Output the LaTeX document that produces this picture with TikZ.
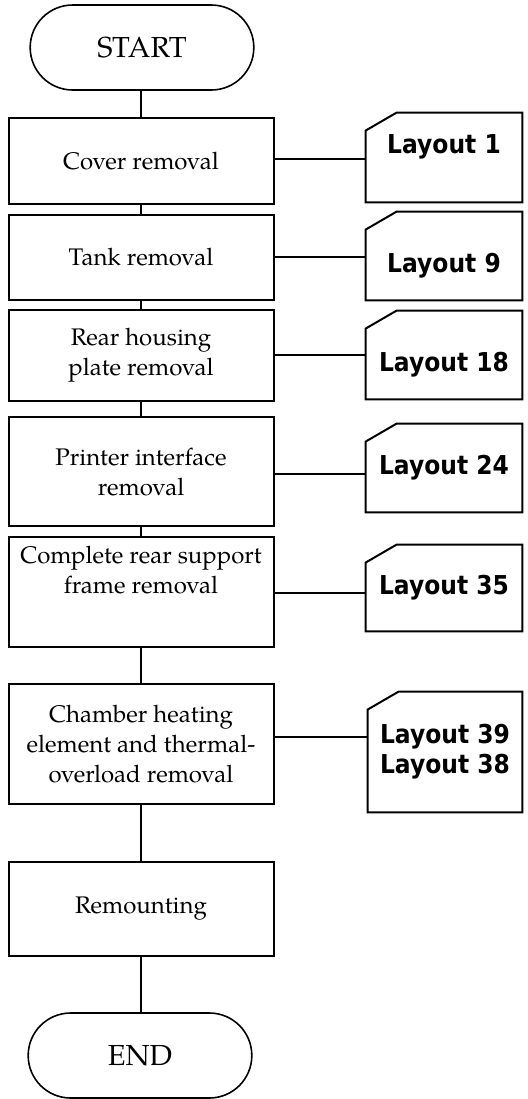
\documentclass[tikz,border=0pt]{standalone}
\usepackage{fontspec}
\setmainfont{TeX Gyre Pagella}
\newfontfamily\layoutfont{DejaVu Sans}[FakeStretch=0.9]
\usetikzlibrary{shapes.misc}

\begin{document}
\begin{tikzpicture}[x=0.5pt,y=-0.5pt,
    stepbox/.style={draw,line width=1pt,minimum width=132.5pt,align=center,inner sep=0pt,
      font=\fontsize{12}{15}\selectfont},
    termbox/.style={draw,line width=0.8pt,rounded rectangle,minimum width=118.5pt,
      minimum height=42.5pt,font=\fontsize{14.5}{17}\selectfont},
    card/.style={minimum width=78pt,minimum height=44pt,align=center,inner sep=0pt,
      font=\layoutfont\bfseries\fontsize{13}{15}\selectfont},
    link/.style={line width=0.75pt}]
  \useasboundingbox (0,0) rectangle (527,1099);
  % main chain
  \node[termbox] (start) at (142,47.5) {START};
  \node[stepbox,minimum height=43pt] (b1) at (141,161) {Cover removal};
  \node[stepbox,minimum height=42.5pt] (b2) at (141,257.5) {Tank removal};
  \node[stepbox,minimum height=45.5pt] (b3) at (141,355.5) {Rear housing\\plate removal};
  \node[stepbox,minimum height=54.5pt] (b4) at (141,471.5) {Printer interface\\removal};
  \node[stepbox,minimum height=55pt] (b5) at (141,592) {};
  \node[align=center,inner sep=0pt,font=\fontsize{12}{15}\selectfont] (t5) at (141,570.5)
    {Complete rear support\\frame removal};
  \node[stepbox,minimum height=60pt] (b6) at (141,744) {Chamber heating\\element and thermal-\\overload removal};
  \node[stepbox,minimum height=47pt] (b7) at (141,909) {Remounting};
  \node[termbox] (end) at (140,1055.5) {END};
  % layout cards
  \node[card,minimum height=44.5pt,text height=5pt,text depth=9.5pt] (c1) at (444,157.5) {Layout 1};
  \node[card,text height=16.5pt,text depth=0pt] (c2) at (444,256) {Layout 9};
  \node[card,text height=16.5pt,text depth=0pt] (c3) at (444,355) {Layout 18};
  \node[card] (c4) at (444,468) {Layout 24};
  \node[card,minimum height=43pt] (c5) at (444,588) {Layout 35};
  \node[card,minimum width=77pt,minimum height=60pt] (c6) at (445,752) {Layout 39\\Layout 38};
  \foreach \c in {c1,c2,c3,c4,c5,c6}
    \draw[line width=1pt] (\c.south west) -- ([yshift=-9pt]\c.north west)
      -- ([xshift=15.5pt]\c.north west) -- (\c.north east) -- (\c.south east) -- cycle;
  % connectors
  \draw[link] (start.south -| b1.north) -- (b1);
  \draw[link] (b1) -- (b2);
  \draw[link] (b2) -- (b3);
  \draw[link] (b3) -- (b4);
  \draw[link] (b4) -- (b5);
  \draw[link] (b5) -- (b6);
  \draw[link] (b6) -- (b7);
  \draw[link] (b7) -- (b7.south |- end.north);
  \draw[link] ([yshift=1pt]b1.east) -- ([yshift=1pt]b1.east -| c1.west);
  \draw[link] ([yshift=0.25pt]b2.east) -- ([yshift=0.25pt]b2.east -| c2.west);
  \draw[link] ([yshift=0.25pt]b3.east) -- ([yshift=0.25pt]b3.east -| c3.west);
  \draw[link] ([yshift=-1.25pt]b4.east) -- ([yshift=-1.25pt]b4.east -| c4.west);
  \draw[link] ([yshift=-0.5pt]b5.east) -- ([yshift=-0.5pt]b5.east -| c5.west);
  \draw[link] ([yshift=3.5pt]b6.east) -- ([yshift=3.5pt]b6.east -| c6.west);
\end{tikzpicture}
\end{document}
